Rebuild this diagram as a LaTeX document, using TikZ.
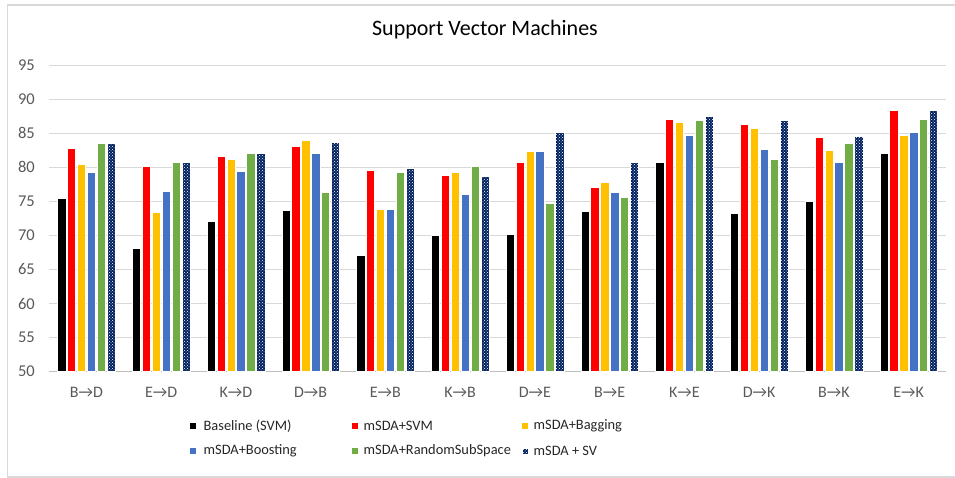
\documentclass[tikz,border=0pt]{standalone}
\usepackage{fontspec}
\setmainfont{Carlito}
\usetikzlibrary{positioning,patterns}

\definecolor{cblack}{HTML}{000000}
\definecolor{cred}{HTML}{FF0000}
\definecolor{cyellow}{HTML}{FFC000}
\definecolor{cblue}{HTML}{4472C4}
\definecolor{cgreen}{HTML}{70AD47}
\definecolor{cnavy}{HTML}{002060}
\definecolor{gridgray}{HTML}{D9D9D9}
\definecolor{axisgray}{HTML}{BFBFBF}
\definecolor{textgray}{HTML}{595959}

\begin{document}
\begin{tikzpicture}[x=1pt, y=1pt]

	\tikzstyle{frame}=[draw=gridgray, line width=1.2pt]
	\tikzstyle{grid}=[draw=gridgray, line width=1pt]
	\tikzstyle{axis}=[draw=axisgray, line width=1pt]
	\tikzstyle{tick}=[anchor=east, inner sep=0pt, text=textgray, font=\fontsize{16.5}{18}\selectfont]
	\tikzstyle{cat}=[inner sep=0pt, text=textgray, font=\fontsize{16}{18}\selectfont]
	\tikzstyle{bar}=[draw=white, line width=0.4pt]
	\tikzstyle{sv}=[bar, fill=cnavy, postaction={pattern=crosshatch dots, pattern color=white}]
	\tikzstyle{legsq}=[minimum size=6.5pt, inner sep=0pt]
	\tikzstyle{legtxt}=[inner sep=0pt, text=black!85, font=\fontsize{14.4}{17}\selectfont]

	\useasboundingbox (0,0) rectangle (955,478);

	%%%%%%%% MARCO Y TITULO %%%%%%%%
	\draw[frame] (957,473) -- (7.5,473) -- (7.5,1) -- (957,1);
	\node[font=\fontsize{22}{26}\selectfont] (title) at (485,448) {Support Vector Machines};

	%%%%%%%% REJILLA Y EJE Y %%%%%%%%
	\foreach \v in {55,60,...,95} {
		\pgfmathsetmacro{\yy}{106.3+(\v-50)*6.815}
		\draw[grid] (49,\yy) -- (946,\yy);
	}
	\draw[axis] (49,106.3) -- (946,106.3);
	\foreach \v in {50,55,...,95} {
		\pgfmathsetmacro{\yy}{106.3+(\v-50)*6.815}
		\node[tick] (t\v) at (35,\yy) {\v};
	}

	%%%%%%%% BARRAS %%%%%%%%
	\foreach \g/\src/\dst/\va/\vb/\vc/\vd/\ve/\vf in {
		1/B/D/75.4/82.8/80.5/79.3/83.5/83.5,
		2/E/D/68.1/80.2/73.4/76.5/80.8/80.7,
		3/K/D/72.1/81.6/81.2/79.4/82.1/82.1,
		4/D/B/73.7/83.1/84.0/82.1/76.4/83.7,
		5/E/B/67.1/79.5/73.8/73.8/79.3/79.9,
		6/K/B/70.1/78.8/79.2/76.1/80.2/78.7,
		7/D/E/70.2/80.7/82.3/82.4/74.7/85.2,
		8/B/E/73.6/77.0/77.8/76.3/75.6/80.8,
		9/K/E/80.7/87.0/86.6/84.7/86.9/87.5,
		10/D/K/73.2/86.3/85.7/82.6/81.2/86.9,
		11/B/K/75.0/84.4/82.5/80.8/83.5/84.6,
		12/E/K/82.1/88.4/84.7/85.2/87.1/88.4} {
		\pgfmathsetmacro{\cx}{49+74.75*(\g-0.5)}
		\foreach \v/\col [count=\j from 0] in {\va/cblack,\vb/cred,\vc/cyellow,\vd/cblue,\ve/cgreen} {
			\draw[bar, fill=\col] ({\cx+(\j-2.5)*9.9-4.15},106.3) rectangle ({\cx+(\j-2.5)*9.9+4.15},{106.3+(\v-50)*6.815});
		}
		\draw[sv] ({\cx+2.5*9.9-4.15},106.3) rectangle ({\cx+2.5*9.9+4.15},{106.3+(\vf-50)*6.815});
		\node[cat] (c\g) at (\cx,86) {\src→\dst};
	}

	%%%%%%%% LEYENDA %%%%%%%%
	\node[legsq, fill=cblack] (sq1) at (193,52) {};
	\node[legtxt, right=7pt of sq1] (lg1) {Baseline (SVM)};
	\node[legsq, fill=cred] (sq2) at (355,52) {};
	\node[legtxt, right=5pt of sq2] (lg2) {mSDA+SVM};
	\node[legsq, fill=cyellow] (sq3) at (525,52) {};
	\node[legtxt, right=5pt of sq3] (lg3) {mSDA+Bagging};
	\node[legsq, fill=cblue] (sq4) at (193,27) {};
	\node[legtxt, right=7pt of sq4] (lg4) {mSDA+Boosting};
	\node[legsq, fill=cgreen] (sq5) at (355,27) {};
	\node[legtxt, right=5pt of sq5] (lg5) {mSDA+RandomSubSpace};
	\node[legsq, sv] (sq6) at (525,27) {};
	\node[legtxt, right=5pt of sq6] (lg6) {mSDA + SV};

\end{tikzpicture}
\end{document}
